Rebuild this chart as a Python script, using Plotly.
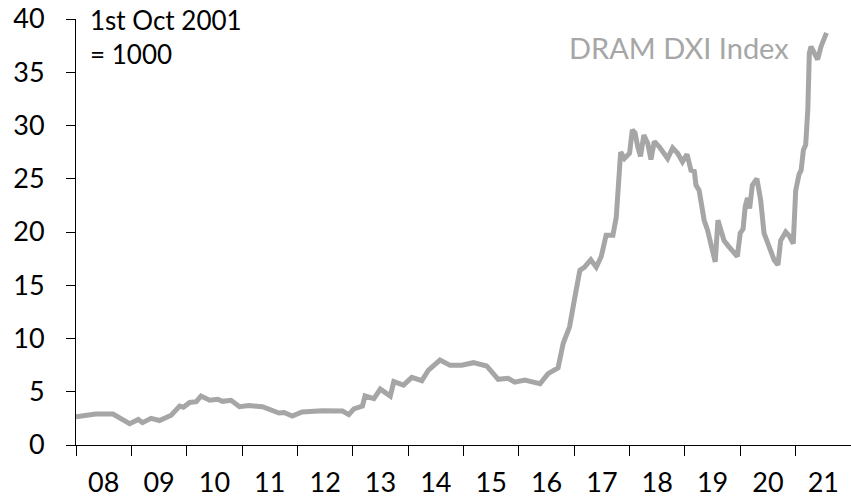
import plotly.graph_objects as go

dates = [
    "2008-01-01", "2008-02-25", "2008-05-10", "2008-09-01", "2008-10-20", "2008-12-20",
    "2009-02-15", "2009-03-15", "2009-05-10", "2009-07-05", "2009-09-20", "2009-11-15", "2009-12-10",
    "2010-01-20", "2010-03-05", "2010-04-05", "2010-06-01", "2010-07-25", "2010-08-25", "2010-10-20", "2010-12-15",
    "2011-02-15", "2011-05-15", "2011-06-28", "2011-09-01", "2011-10-05", "2011-11-28",
    "2012-02-01", "2012-06-15", "2012-10-25", "2012-12-05",
    "2013-01-08", "2013-03-05", "2013-03-22", "2013-05-20", "2013-07-01", "2013-09-05", "2013-09-28", "2013-12-01",
    "2014-01-25", "2014-04-01", "2014-05-15", "2014-07-30", "2014-10-05", "2014-12-20",
    "2015-03-08", "2015-06-03", "2015-08-18", "2015-10-22", "2015-12-05",
    "2016-02-10", "2016-04-05", "2016-05-20", "2016-07-12", "2016-09-16", "2016-10-20", "2016-12-01",
    "2017-01-05", "2017-02-07", "2017-03-10", "2017-04-20", "2017-05-26", "2017-06-28", "2017-07-30",
    "2017-09-13", "2017-10-05", "2017-10-16", "2017-11-03", "2017-11-28",
    "2018-01-01", "2018-01-19", "2018-02-06", "2018-02-24", "2018-03-14", "2018-04-05", "2018-05-01",
    "2018-05-22", "2018-06-13", "2018-07-16", "2018-09-09", "2018-10-12", "2018-11-14", "2018-12-16",
    "2019-01-15", "2019-02-10", "2019-03-04", "2019-03-15", "2019-04-05", "2019-05-08", "2019-05-30",
    "2019-06-21", "2019-07-20", "2019-08-07", "2019-09-16", "2019-10-19", "2019-11-21", "2019-12-13",
    "2020-01-01", "2020-01-20", "2020-02-03", "2020-02-18", "2020-03-03", "2020-03-21", "2020-04-20",
    "2020-05-15", "2020-06-06", "2020-07-09", "2020-08-11", "2020-09-06", "2020-09-24", "2020-10-27",
    "2020-11-21", "2020-12-16",
    "2021-01-01", "2021-01-23", "2021-02-06", "2021-02-21", "2021-03-08", "2021-03-22", "2021-04-01",
    "2021-04-12", "2021-05-26", "2021-06-17", "2021-07-23",
]

dxi_index = [
    2.66, 2.75, 2.9, 2.9, 2.5, 2.0,
    2.4, 2.1, 2.5, 2.3, 2.8, 3.66, 3.55,
    4.0, 4.07, 4.6, 4.2, 4.3, 4.1, 4.2, 3.6,
    3.7, 3.6, 3.4, 3.0, 3.05, 2.72,
    3.1, 3.22, 3.19, 2.85,
    3.4, 3.66, 4.6, 4.35, 5.25, 4.6, 5.95, 5.63,
    6.35, 6.04, 7.04, 7.98, 7.48, 7.5,
    7.73, 7.42, 6.17, 6.26, 5.9,
    6.1, 5.9, 5.75, 6.7, 7.25, 9.55, 11.1,
    13.9, 16.4, 16.7, 17.4, 16.7, 17.7, 19.7,
    19.7, 21.4, 24.6, 27.5, 26.9,
    27.4, 29.6, 29.3, 28.0, 27.1, 29.1, 28.3,
    26.8, 28.5, 28.0, 26.9, 27.9, 27.4, 26.6,
    27.3, 25.8, 25.7, 24.4, 23.9, 21.1, 20.2,
    18.9, 17.2, 21.1, 19.2, 18.6, 18.0, 17.7,
    19.9, 20.3, 22.4, 23.2, 22.2, 24.4, 25.0,
    23.0, 19.9, 18.6, 17.4, 16.9, 19.2, 20.0,
    19.6, 18.9,
    23.9, 25.4, 25.8, 27.7, 28.2, 31.5, 36.8,
    37.4, 36.2, 37.4, 38.7,
]

y_ticks = [0, 5, 10, 15, 20, 25, 30, 35, 40]
series_name = "DRAM DXI Index"
base_note = "1st Oct 2001<br>= 1000"

FONT = "Lato"

fig = go.Figure()
fig.add_trace(go.Scatter(
    x=dates, y=dxi_index, mode="lines", name=series_name,
    line=dict(color="#a6a6a6", width=5),
))

fig.update_layout(
    width=851, height=499,
    margin=dict(l=76, r=0, t=19, b=54),
    paper_bgcolor="white", plot_bgcolor="white",
    showlegend=False,
    font=dict(family=FONT, size=27, color="#000000"),
    xaxis=dict(
        type="date", range=["2008-01-01", "2022-01-01"],
        dtick="M12", tick0="2008-01-01", tickformat="%y",
        ticklabelmode="period",
        ticks="outside", ticklen=10, tickcolor="#000", tickwidth=1,
        showline=True, linecolor="#000", linewidth=1,
        showgrid=False, zeroline=False, automargin=False,
        tickfont=dict(family=FONT, size=27),
        ticklabelstandoff=4,
    ),
    yaxis=dict(
        range=[0, 40], tickvals=y_ticks,
        ticks="outside", ticklen=9, tickcolor="#000", tickwidth=1,
        showline=True, linecolor="#000", linewidth=1,
        showgrid=False, zeroline=False, automargin=False,
        tickfont=dict(family=FONT, size=27),
        ticklabelstandoff=16,
    ),
    annotations=[
        dict(xref="paper", yref="paper", x=0.016, y=1.04, xanchor="left", yanchor="top",
             text=base_note, showarrow=False, align="left",
             font=dict(family=FONT, size=26, color="#000")),
        dict(xref="paper", yref="paper", x=0.9226, y=0.934, xanchor="right", yanchor="middle",
             text=series_name, showarrow=False,
             font=dict(family=FONT, size=29, color="#a6a6a6")),
    ],
)

fig.write_html(
    "out.html",
    config={"displayModeBar": False},
    post_script="document.body.style.margin='0';document.body.style.overflow='hidden';",
)
